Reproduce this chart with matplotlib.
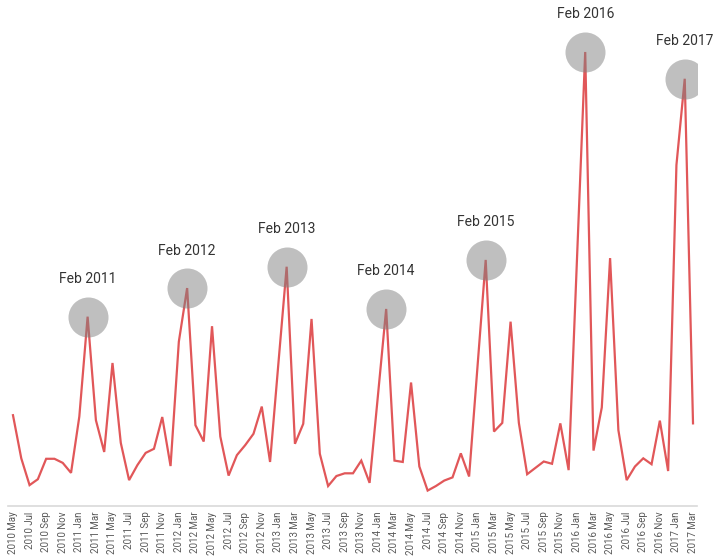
import matplotlib
matplotlib.use("Agg")
import matplotlib.pyplot as plt
import numpy as np

# Monthly series, May 2010 .. Mar 2017
months = ["Jan", "Feb", "Mar", "Apr", "May", "Jun", "Jul", "Aug", "Sep", "Oct", "Nov", "Dec"]
start_year, start_month = 2010, 5
values = [
    20.0, 10.5, 4.6, 5.9, 10.4, 10.4, 9.5, 7.3,                  # 2010 May-Dec
    19.7, 41.7, 18.9, 11.9, 31.5, 13.9, 5.7, 9.0, 11.7, 12.6, 19.6, 8.8,   # 2011
    36.2, 48.0, 17.8, 14.2, 39.6, 15.3, 6.7, 11.2, 13.4, 15.9, 21.9, 9.7,  # 2012
    31.3, 52.7, 13.7, 18.1, 41.2, 11.5, 4.4, 6.6, 7.2, 7.2, 10.0, 5.1,     # 2013
    24.2, 43.4, 10.0, 9.7, 27.2, 8.7, 3.4, 4.4, 5.6, 6.3, 11.6, 6.5,       # 2014
    30.4, 54.2, 16.4, 18.3, 40.6, 18.3, 7.0, 8.4, 9.8, 9.3, 18.2, 7.9,     # 2015
    54.0, 100.0, 12.2, 21.7, 54.6, 16.7, 5.7, 8.7, 10.5, 9.2, 18.8, 7.7,   # 2016
    75.1, 94.1, 18.2,                                                      # 2017 Jan-Mar
]
highlight = ["Feb 2011", "Feb 2012", "Feb 2013", "Feb 2014", "Feb 2015", "Feb 2016", "Feb 2017"]

labels = []
for i in range(len(values)):
    m = start_month - 1 + i
    labels.append(f"{start_year + m // 12} {months[m % 12]}")
short = [f"{l.split()[1]} {l.split()[0]}" for l in labels]

x = np.arange(len(values))

fig = plt.figure(figsize=(7.13, 5.58), dpi=100)
ax = fig.add_axes([8 / 713, 52 / 558, (697 - 8) / 713, 506 / 558])
ax.plot(x, values, color="#e15759", lw=1.6, zorder=2, solid_joinstyle="miter")

for h in highlight:
    i = short.index(h)
    ax.scatter([x[i]], [values[i]], s=830, color="#808080", alpha=0.5, lw=0, zorder=3)
    ax.annotate(h, (x[i], values[i]), xytext=(0, 27), textcoords="offset points",
                ha="center", va="center", fontsize=10, family="Roboto", color="#333333")

ax.set_xlim(-0.6, 82.48)
ax.set_ylim(0, 111.45)
ax.set_xticks(x[::2])
ax.set_xticklabels(labels[::2], rotation=90, fontsize=7, family="Roboto", color="#595959")
ax.tick_params(axis="x", length=0, pad=4)
ax.set_yticks([])
for s in ["top", "right", "left"]:
    ax.spines[s].set_visible(False)
ax.spines["bottom"].set_color("#d9d9d9")
ax.spines["bottom"].set_linewidth(1.2)

fig.savefig("out.png", dpi=100)
